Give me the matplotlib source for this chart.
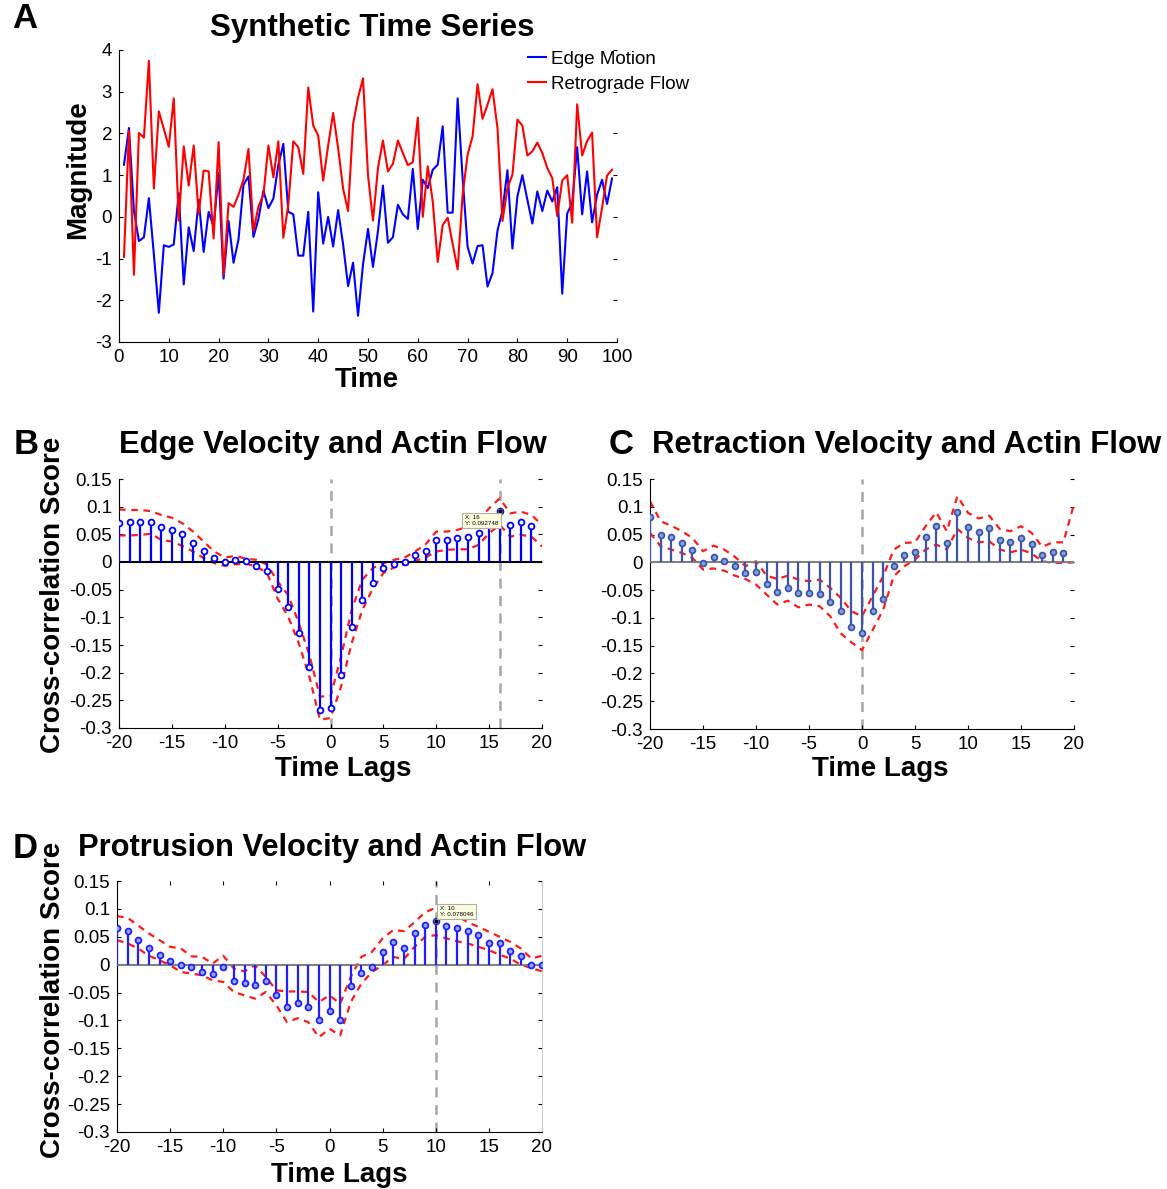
import numpy as np
import matplotlib
matplotlib.use("Agg")
import matplotlib.pyplot as plt

plt.rcParams["font.family"] = ["Liberation Sans", "DejaVu Sans"]
plt.rcParams["axes.unicode_minus"] = False

# ------------------------------------------------------------------
# data
# ------------------------------------------------------------------
time = np.arange(1, 100)
edge_motion = [1.25, 2.13, 0.14, -0.58, -0.49, 0.45, -0.9, -2.3, -0.68, -0.72,
               -0.66, 0.57, -1.62, -0.25, -0.82, 0.41, -0.84, 0.12, -0.23, 1.05,
               -1.48, -0.1, -1.1, -0.54, 0.77, 0.97, -0.48, -0.05, 0.63, 0.21,
               0.44, 1.25, 1.75, 0.12, 0.06, -0.93, -0.93, 0.12, -2.27, 0.59,
               -0.64, 0.0, -0.71, 0.16, -0.66, -1.66, -1.1, -2.37, -1.14, -0.29,
               -1.2, -0.34, 0.75, -0.62, -0.49, 0.29, 0.06, -0.05, 1.15, -0.29,
               0.89, 0.69, 1.13, 1.25, 2.17, 0.1, 0.1, 2.84, 0.93, -0.72,
               -1.12, -0.7, -0.68, -1.67, -1.35, -0.33, 0.15, 1.12, -0.76, 0.49,
               1.0, 0.41, -0.16, 0.61, 0.14, 0.63, 0.37, 0.71, -1.84, 0.08,
               0.33, 1.67, 0.06, 1.09, -0.13, 0.53, 0.89, 0.31, 0.92]
retro_flow = [-0.96, 2.06, -1.39, 2.01, 1.9, 3.74, 0.68, 2.53, 2.11, 1.68,
              2.84, -0.09, 1.69, 0.75, 1.71, 0.06, 1.11, 1.09, -0.52, 1.79,
              -1.38, 0.33, 0.24, 0.53, 0.89, 1.63, -0.34, 0.25, 0.53, 1.71,
              0.95, 1.81, -0.5, 0.29, 1.81, 1.67, 1.03, 3.1, 2.19, 1.95,
              0.87, 1.71, 2.49, 1.65, 0.68, 0.14, 2.22, 2.86, 3.32, 1.0,
              -0.09, 1.17, 1.83, 1.09, 1.27, 1.83, 1.53, 1.24, 1.31, 2.38,
              0.0, 1.21, 0.37, -1.08, -0.2, -0.02, -0.65, -1.26, 0.53, 1.49,
              1.93, 3.18, 2.35, 2.69, 3.06, 2.13, -0.1, 0.69, 1.01, 2.33,
              2.19, 1.47, 1.57, 1.78, 1.53, 1.17, 0.93, 0.02, 0.87, 1.0,
              -0.14, 2.7, 1.47, 1.82, 2.02, -0.49, 0.22, 0.99, 1.13]

lags = np.arange(-20, 21)

# B - edge velocity
b_xcorr = [0.071, 0.072, 0.072, 0.072, 0.063, 0.058, 0.050, 0.035, 0.020, 0.008,
           0.0, 0.003, 0.002, -0.007, -0.016, -0.049, -0.081, -0.128, -0.189, -0.267,
           -0.264, -0.204, -0.118, -0.068, -0.038, -0.010, -0.003, 0.0, 0.012, 0.019,
           0.039, 0.039, 0.043, 0.046, 0.052, 0.068, 0.092748, 0.066, 0.072, 0.065]
b_upper = [0.095, 0.094, 0.094, 0.092, 0.085, 0.080, 0.070, 0.055, 0.037, 0.019,
           0.008, 0.011, 0.006, 0.004, -0.005, -0.035, -0.060, -0.110, -0.168, -0.243,
           -0.243, -0.171, -0.087, -0.032, -0.011, -0.002, 0.004, 0.008, 0.019, 0.032,
           0.055, 0.055, 0.058, 0.064, 0.076, 0.097, 0.115, 0.088, 0.091, 0.085, 0.067]
b_lower = [0.048, 0.048, 0.049, 0.051, 0.040, 0.037, 0.029, 0.019, 0.007, -0.002,
           -0.007, -0.004, -0.003, -0.008, -0.020, -0.066, -0.099, -0.147, -0.207, -0.285,
           -0.282, -0.225, -0.147, -0.087, -0.048, -0.020, -0.010, -0.004, 0.002, 0.008,
           0.019, 0.022, 0.023, 0.023, 0.031, 0.052, 0.067, 0.046, 0.049, 0.046, 0.028]

# C - retraction velocity
c_xcorr = [0.081, 0.050, 0.045, 0.034, 0.022, -0.001, 0.010, 0.003, -0.007, -0.020,
           -0.017, -0.039, -0.054, -0.046, -0.056, -0.055, -0.057, -0.072, -0.088, -0.117,
           -0.128, -0.088, -0.066, -0.006, 0.014, 0.019, 0.046, 0.066, 0.035, 0.090,
           0.064, 0.055, 0.061, 0.040, 0.037, 0.044, 0.033, 0.014, 0.019, 0.017]
c_upper = [0.110, 0.074, 0.066, 0.056, 0.044, 0.020, 0.030, 0.023, 0.010, -0.007,
           0.002, -0.024, -0.030, -0.024, -0.031, -0.034, -0.031, -0.046, -0.064, -0.088,
           -0.097, -0.061, -0.025, 0.023, 0.035, 0.036, 0.065, 0.090, 0.056, 0.119,
           0.089, 0.079, 0.084, 0.060, 0.056, 0.065, 0.053, 0.028, 0.036, 0.036, 0.105]
c_lower = [0.053, 0.029, 0.023, 0.017, 0.008, -0.013, -0.011, -0.015, -0.024, -0.030,
           -0.040, -0.058, -0.076, -0.069, -0.081, -0.076, -0.079, -0.097, -0.128, -0.144,
           -0.158, -0.122, -0.085, -0.025, -0.007, 0.005, 0.023, 0.032, 0.023, 0.060,
           0.044, 0.036, 0.038, 0.023, 0.018, 0.023, 0.016, 0.002, -0.001, -0.001, 0.0]

# D - protrusion velocity
d_xcorr = [0.065, 0.060, 0.044, 0.030, 0.018, 0.007, -0.001, -0.004, -0.014, -0.016,
           -0.004, -0.029, -0.032, -0.037, -0.029, -0.054, -0.076, -0.068, -0.076, -0.099,
           -0.083, -0.099, -0.038, -0.015, -0.004, 0.022, 0.041, 0.030, 0.057, 0.072,
           0.078046, 0.069, 0.066, 0.060, 0.054, 0.039, 0.039, 0.025, 0.016, 0.0, 0.0]
d_upper = [0.087, 0.084, 0.070, 0.056, 0.044, 0.032, 0.029, 0.015, 0.014, 0.002,
           0.016, -0.007, -0.012, -0.001, -0.022, -0.046, -0.048, -0.048, -0.049, -0.067,
           -0.055, -0.070, -0.022, 0.014, 0.023, 0.047, 0.062, 0.060, 0.076, 0.094,
           0.102, 0.097, 0.088, 0.076, 0.068, 0.059, 0.050, 0.041, 0.029, 0.011, 0.016]
d_lower = [0.044, 0.038, 0.029, 0.016, 0.008, -0.001, -0.013, -0.016, -0.019, -0.028,
           -0.031, -0.049, -0.055, -0.061, -0.049, -0.073, -0.103, -0.096, -0.103, -0.130,
           -0.115, -0.127, -0.067, -0.034, -0.013, -0.001, 0.014, 0.010, 0.032, 0.050,
           0.053, 0.047, 0.042, 0.038, 0.032, 0.026, 0.018, 0.011, 0.0, -0.006, -0.012]

yticks_cc = [-0.3, -0.25, -0.2, -0.15, -0.1, -0.05, 0, 0.05, 0.1, 0.15]
ytick_labels_cc = ["-0.3", "-0.25", "-0.2", "-0.15", "-0.1", "-0.05", "0", "0.05", "0.1", "0.15"]
xticks_cc = [-20, -15, -10, -5, 0, 5, 10, 15, 20]

W, H = 1167, 1189
fig = plt.figure(figsize=(W / 100, H / 100), dpi=100)


def rect(l, t, r, b):
    return [l / W, 1 - b / H, (r - l) / W, (b - t) / H]


def ftext(x, y, s, **kw):
    fig.text(x / W, 1 - y / H, s, ha=kw.pop("ha", "center"), va=kw.pop("va", "center"), **kw)


def style_axes(ax):
    ax.spines["top"].set_visible(False)
    ax.spines["right"].set_visible(False)
    ax.tick_params(direction="in", length=3, width=0.8, labelsize=13.5, pad=5,
                   right=True, top=False)
    ax.tick_params(axis="y", which="both", right=True, labelright=False)


# ------------------------------------------------------------------
# A - synthetic time series
# ------------------------------------------------------------------
axA = fig.add_axes(rect(119, 50, 617, 342))
axA.plot(time, edge_motion, color="#0000ff", lw=1.5, label="Edge Motion")
axA.plot(time, retro_flow, color="#ff0000", lw=1.5, label="Retrograde Flow")
axA.set_xlim(0, 100)
axA.set_ylim(-3, 4)
axA.set_xticks(range(0, 101, 10))
axA.set_yticks(range(-3, 5))
style_axes(axA)
axA.legend(loc="upper left", bbox_to_anchor=(524 / W, 1 - 47 / H), bbox_transform=fig.transFigure,
           frameon=False, fontsize=13.5, handlelength=0.95, handletextpad=0.3,
           labelspacing=0.42, borderaxespad=0, borderpad=0.2)
ftext(372, 28, "Synthetic Time Series", fontsize=22.5, fontweight="bold")
ftext(78, 170, "Magnitude", fontsize=20, fontweight="bold", rotation=90)
ftext(367, 380, "Time", fontsize=20, fontweight="bold")
ftext(25, 18, "A", fontsize=25, fontweight="bold")


# ------------------------------------------------------------------
# cross-correlation panels
# ------------------------------------------------------------------
def xcorr_panel(box, vals, upper, lower, stem_col, face_col, base_col, vlines, tips):
    ax = fig.add_axes(rect(*box))
    ax.plot(lags, upper, color="#ff1a1a", lw=1.6, ls=(0, (3, 2.5)), zorder=2)
    ax.plot(lags, lower, color="#ff1a1a", lw=1.6, ls=(0, (3, 2.5)), zorder=2)
    for xv in vlines:
        ax.axvline(xv, color="#a6a6a6", lw=1.8, ls=(0, (4, 3)), zorder=1)
    ax.axhline(0, color=base_col, lw=1.5, zorder=3)
    x = lags[:len(vals)]
    ax.vlines(x, 0, vals, color=stem_col, lw=1.6, zorder=4)
    ax.plot(x, vals, ls="none", marker="o", ms=4.2, mec=stem_col, mfc=face_col,
            mew=1.3, zorder=5)
    for tx, ty, off in tips:
        ax.plot(tx, ty, ls="none", marker="s", ms=3.5, mfc="black", mec="#555555",
                mew=0.8, zorder=6)
        ax.annotate("X: %d\nY: %s" % (tx, ty), xy=(tx, ty), xytext=off,
                    textcoords="offset points", fontsize=4.5, ha="left", va="center",
                    bbox=dict(boxstyle="square,pad=0.4", fc="#fdfde0", ec="#b0b0a0", lw=0.8),
                    zorder=7)
    ax.set_xlim(-20, 20)
    ax.set_ylim(-0.3, 0.15)
    ax.set_xticks(xticks_cc)
    ax.set_yticks(yticks_cc)
    ax.set_yticklabels(ytick_labels_cc)
    style_axes(ax)
    return ax


xcorr_panel((119, 479, 542, 728), b_xcorr, b_upper, b_lower,
            "#0000ff", "white", "black", [0, 16], [(16, 0.092748, (-25, -7))])
ftext(333, 445, "Edge Velocity and Actin Flow", fontsize=22.2, fontweight="bold")
ftext(53, 595, "Cross-correlation Score", fontsize=20, fontweight="bold", rotation=90)
ftext(343, 769, "Time Lags", fontsize=20, fontweight="bold")
ftext(26, 445, "B", fontsize=25, fontweight="bold")

xcorr_panel((650, 479, 1074, 729), c_xcorr, c_upper, c_lower,
            "#3c55a8", "#86a2dc", "#808080", [0], [])
ftext(652, 445, "Retraction Velocity and Actin Flow", fontsize=22.4, fontweight="bold", ha="left")
ftext(880, 769, "Time Lags", fontsize=20, fontweight="bold")
ftext(621, 445, "C", fontsize=25, fontweight="bold")

axD = xcorr_panel((117, 881, 542, 1132), d_xcorr, d_upper, d_lower,
                  "#1f1fff", "#9aa8ff", "#808080", [10], [(10, 0.078046, (3, 7))])
axD.spines["right"].set_visible(True)
axD.spines["right"].set_color("#cccccc")
axD.tick_params(axis="x", top=True)
ftext(332, 848, "Protrusion Velocity and Actin Flow", fontsize=22.2, fontweight="bold")
ftext(53, 1000, "Cross-correlation Score", fontsize=20, fontweight="bold", rotation=90)
ftext(339, 1175, "Time Lags", fontsize=20, fontweight="bold")
ftext(25, 848, "D", fontsize=25, fontweight="bold")

fig.savefig("out.png", dpi=100)
